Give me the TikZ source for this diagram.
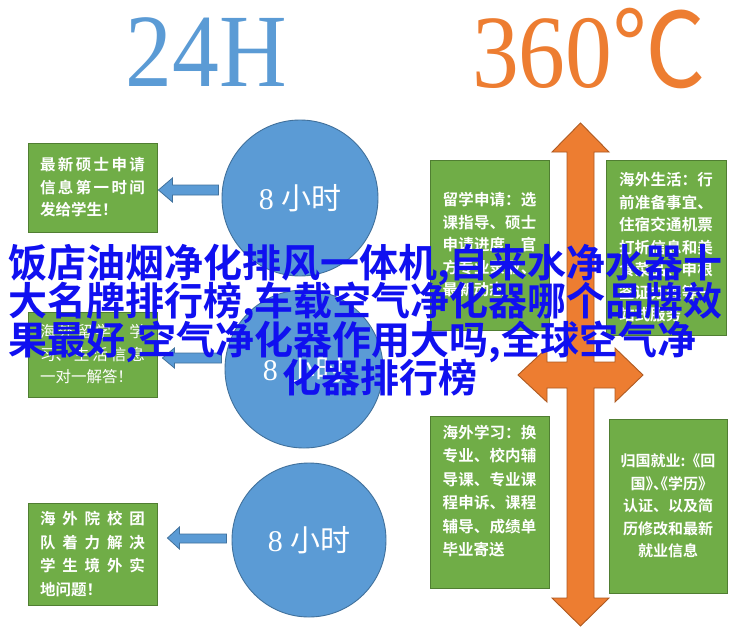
\documentclass[tikz,border=0pt]{standalone}
\usepackage{fontspec}
\setmainfont{Liberation Serif}
\newfontfamily\cjk[BoldFont={Noto Sans CJK SC Bold}]{Noto Sans CJK SC}
\newfontfamily\titlefont[FakeStretch=0.9]{Liberation Serif}
\newfontfamily\titlecjk[FakeStretch=0.9]{Noto Sans CJK SC}
\XeTeXlinebreaklocale "zh"
\XeTeXlinebreakskip=0pt plus 10pt

\definecolor{cblue}{HTML}{5B9BD5}
\definecolor{cblueline}{HTML}{41719C}
\definecolor{corange}{HTML}{ED7D31}
\definecolor{corangeline}{HTML}{AE5A21}
\definecolor{cgreen}{HTML}{70AD47}
\definecolor{cgreenline}{HTML}{507E32}
\definecolor{adblue}{HTML}{1010F0}

\begin{document}
\begin{tikzpicture}[
    x=1pt, y=-1pt,
    infobox/.style={draw=cgreenline, fill=cgreen, line width=0.9pt, text=white, inner sep=0pt,
        align=justify, font=\cjk\bfseries\fontsize{15.5}{22.5}\selectfont},
    hourcircle/.style={circle, draw=cblueline, fill=cblue, line width=0.9pt, text=white,
        inner sep=0pt, font=\fontsize{30}{30}\selectfont},
    leftpointer/.style={draw=cblueline, fill=cblue, line width=0.8pt},
    quadarrow/.style={draw=corangeline, fill=corange, line width=0.9pt},
    adtext/.style={text=adblue, inner sep=0pt, font=\cjk\bfseries\fontsize{39}{39}\selectfont}
]
\useasboundingbox (0,0) rectangle (753,630);
\fill[white] (0,0) rectangle (753,630);

% Titles
\node[anchor=base, text=cblue, font=\titlefont\fontsize{104}{104}\selectfont] (hours) at (206,86) {24H};
\node[anchor=base, text=corange, font=\titlefont\fontsize{104}{104}\selectfont] (degrees) at (589,87) {360{\titlecjk ℃}};

% Left column
\node[infobox, minimum width=129, minimum height=89, text width=105] (b1) at (92.5,187.5)
    {最新硕士申请\linebreak 信息第一时间\linebreak 发给学生！};
\node[infobox, minimum width=129, minimum height=85, text width=105,
    font=\cjk\fontsize{15.5}{22.5}\selectfont] (b2) at (92.5,354.5)
    {海外留学、学\linebreak 习、生活信息\linebreak 一对一解答！};
\node[infobox, minimum width=129, minimum height=102, text width=105,
    font=\cjk\bfseries\fontsize{15.5}{23.5}\selectfont] (b3) at (92.5,554)
    {海外院校团\linebreak 队着力解决\linebreak 学生境外实\linebreak 地问题！};

\node[hourcircle, minimum size=156] (c1) at (300,198) {8 {\cjk 小时}};
\node[hourcircle, minimum size=158] (c2) at (304,369) {8 {\cjk 小时}};
\node[hourcircle, minimum size=154] (c3) at (309,540) {8 {\cjk 小时}};

% Pointers
\draw[leftpointer] (b1.east) ++(1,2.5) -- ++(14,-12) -- ++(0,7) -- ++(46,0) -- ++(0,10) -- ++(-46,0) -- ++(0,7) -- cycle;
\draw[leftpointer] (b2.east) ++(5,3.5) -- ++(12,-10) -- ++(0,5) -- ++(47,0) -- ++(0,10) -- ++(-47,0) -- ++(0,5) -- cycle;
\draw[leftpointer] (b3.east) ++(10,-16) -- ++(12,-11) -- ++(0,7) -- ++(47,0) -- ++(0,9) -- ++(-47,0) -- ++(0,6) -- cycle;

% Right column
\node[infobox, minimum width=119, minimum height=170, text width=94] (b4) at (489.5,245)
    {留学申请：选\linebreak 课指导、硕士\linebreak 申请进度、官\linebreak 方专业录取、\linebreak 最新动态};
\node[infobox, minimum width=120, minimum height=175, text width=94] (b5) at (666,247.5)
    {海外生活：行\linebreak 前准备事宜、\linebreak 住宿交通机票\linebreak 打折信息和美\linebreak 食菜品、申根\linebreak 签证办理等一\linebreak 站式服务};
\node[infobox, minimum width=119, minimum height=172, text width=94,
    font=\cjk\bfseries\fontsize{15.5}{23.4}\selectfont] (b6) at (489.5,502)
    {海外学习：换\linebreak 专业、校内辅\linebreak 导课、专业课\linebreak 程申诉、课程\linebreak 辅导、成绩单\linebreak 毕业寄送\par\mbox{}};
\node[infobox, minimum width=118, minimum height=174, text width=104, align=center,
    font=\cjk\bfseries\fontsize{15}{22.5}\selectfont] (b7) at (668,506)
    {\XeTeXlinebreakskip=0pt\relax 归国就业:《回\\{\addfontfeature{RawFeature=+halt}国》、《学历》}\\认证、以及简\\历修改和最新\\就业信息};

\coordinate (hub) at (580.5,375);
\draw[quadarrow, shift={(hub)}] (0,-252) -- (28.5,-223) -- (13.5,-223) -- (13.5,-13) -- (34.5,-13)
    -- (34.5,-27) -- (62.5,0) -- (34.5,27) -- (34.5,13) -- (13.5,13) -- (13.5,223) -- (28.5,223)
    -- (0,251) -- (-28.5,223) -- (-13.5,223) -- (-13.5,13) -- (-33.5,13) -- (-33.5,27) -- (-62.5,0)
    -- (-33.5,-27) -- (-33.5,-13) -- (-13.5,-13) -- (-13.5,-223) -- (-28.5,-223) -- cycle;

% Overlay text
\node[adtext, anchor=base west] (ad1) at (8,277) {饭店油烟净化排风一体机,自来水净水器十};
\node[adtext, anchor=base west] (ad2) at (8,315.5) {大名牌排行榜,车载空气净化器哪个品牌效};
\node[adtext, anchor=base west] (ad3) at (8,354) {果最好,空气净化器作用大吗,全球空气净};
\node[adtext, anchor=base] (ad4) at (380,392.5) {化器排行榜};

\end{tikzpicture}
\end{document}
